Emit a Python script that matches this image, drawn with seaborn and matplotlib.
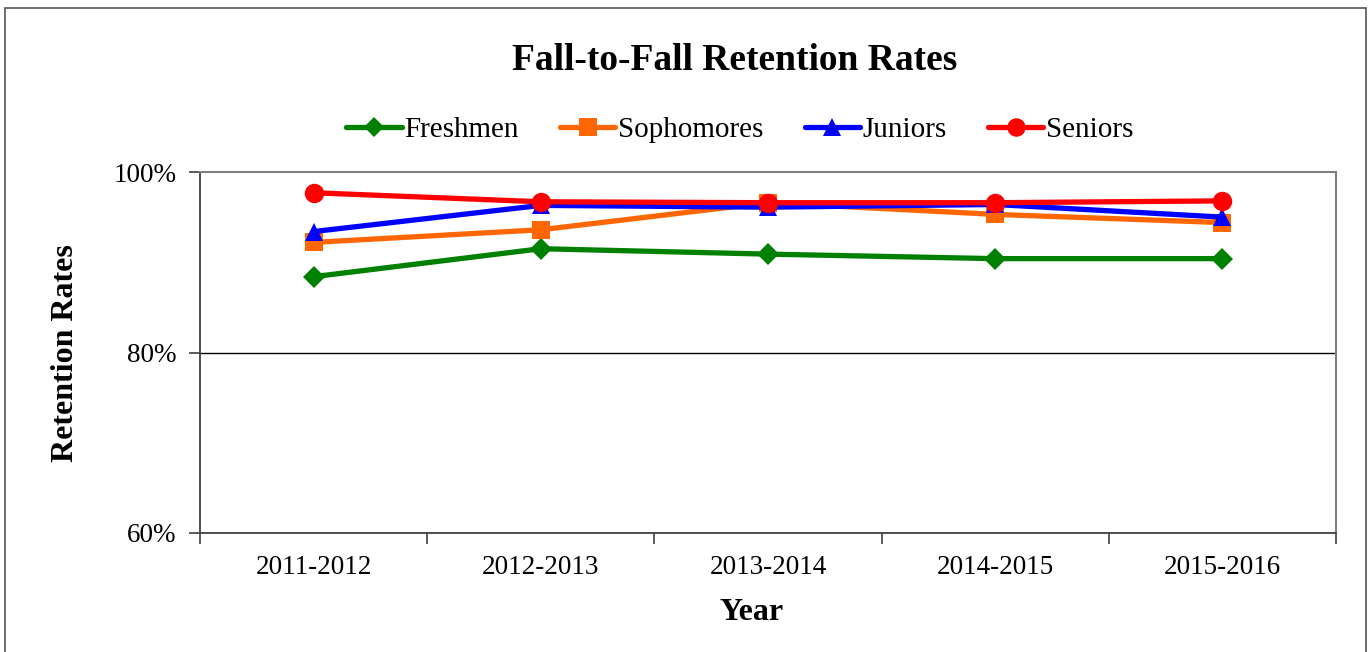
"""Fall-to-fall retention rates by class year."""

import matplotlib
matplotlib.use("Agg")
import matplotlib.pyplot as plt
from matplotlib.patches import Rectangle
from matplotlib.ticker import FixedLocator, PercentFormatter
import pandas as pd
import seaborn as sns

YEARS = ["2011-2012", "2012-2013", "2013-2014", "2014-2015", "2015-2016"]
FRESHMEN = [88.4, 91.5, 90.9, 90.4, 90.4]
SOPHOMORES = [92.2, 93.6, 96.6, 95.3, 94.4]
JUNIORS = [93.4, 96.3, 96.1, 96.4, 95.0]
SENIORS = [97.7, 96.7, 96.6, 96.6, 96.8]

GROUPS = ["Freshmen", "Sophomores", "Juniors", "Seniors"]
COLORS = {"Freshmen": "#008000", "Sophomores": "#FF6600", "Juniors": "#0000FF", "Seniors": "#FF0000"}
MARKERS = {"Freshmen": "D", "Sophomores": "s", "Juniors": "^", "Seniors": "o"}
SIZES = {"Freshmen": 11, "Sophomores": 13, "Juniors": 13, "Seniors": 14}

rows = []
for group, values in zip(GROUPS, [FRESHMEN, SOPHOMORES, JUNIORS, SENIORS]):
    for i, (year, v) in enumerate(zip(YEARS, values)):
        rows.append({"pos": i, "Year": year, "Group": group, "Rate": v})
df = pd.DataFrame(rows)

sns.set_theme(style="white")
plt.rcParams["font.family"] = ["Liberation Serif", "DejaVu Serif"]
plt.rcParams["text.color"] = "black"
plt.rcParams["axes.labelcolor"] = "black"

fig = plt.figure(figsize=(13.69, 6.52), dpi=100)
ax = fig.add_axes([200 / 1369, 1 - 533 / 652, 1136 / 1369, 361 / 652])

for group in GROUPS:
    sub = df[df["Group"] == group]
    sns.lineplot(data=sub, x="pos", y="Rate", ax=ax, color=COLORS[group],
                 marker=MARKERS[group], markersize=SIZES[group], markeredgewidth=0,
                 linewidth=3.8, label=group, legend=False)

ax.set_xlim(-0.5, len(YEARS) - 0.5)
ax.set_ylim(60, 100)
ax.yaxis.set_major_locator(FixedLocator([60, 80, 100]))
ax.yaxis.set_major_formatter(PercentFormatter(decimals=0))
ax.xaxis.set_major_locator(FixedLocator(list(range(len(YEARS)))))
ax.set_xticklabels(YEARS)
ax.xaxis.set_minor_locator(FixedLocator([i - 0.5 for i in range(len(YEARS) + 1)]))
ax.tick_params(axis="x", which="major", length=0, pad=16, labelsize=19.5, labelcolor="black")
ax.tick_params(axis="x", which="minor", length=8, width=1.2, direction="out", color="#404040")
ax.tick_params(axis="y", which="major", length=8, width=1.2, direction="out", color="#404040",
               labelsize=19.5, pad=9, labelcolor="black")
ax.xaxis.set_ticks_position("bottom")
ax.yaxis.set_ticks_position("left")

ax.axhline(80, color="black", linewidth=1.0, zorder=0)
for side in ["left", "bottom"]:
    ax.spines[side].set_color("#404040")
    ax.spines[side].set_linewidth(1.3)
for side in ["top", "right"]:
    ax.spines[side].set_color("#808080")
    ax.spines[side].set_linewidth(1.5)

ax.set_xlabel("Year", fontsize=23, fontweight="bold")
ax.xaxis.set_label_coords((752 - 200) / 1136, -(613 - 533) / 361)
ax.xaxis.label.set_va("center")
ax.set_ylabel("Retention Rates", fontsize=23, fontweight="bold")
ax.yaxis.set_label_coords(-(200 - 66) / 1136, (533 - 353) / 361)
ax.yaxis.label.set_va("center")

fig.text(735 / 1369, 1 - 61 / 652, "Fall-to-Fall Retention Rates", ha="center", va="center",
         fontsize=27, fontweight="bold")

handles, labels = ax.get_legend_handles_labels()
fig.legend(handles, labels, loc="center", bbox_to_anchor=(740 / 1369, 1 - 130 / 652), ncol=4,
           frameon=False, fontsize=21, handlelength=1.9, handletextpad=0.1, columnspacing=1.4,
           markerscale=0.95)

fig.patches.append(Rectangle((5 / 1369, -0.05), 1361 / 1369, 1.05 - 8 / 652,
                             transform=fig.transFigure, fill=False, edgecolor="#555555",
                             linewidth=1.2))

fig.savefig("out.png", dpi=100, facecolor="white")
